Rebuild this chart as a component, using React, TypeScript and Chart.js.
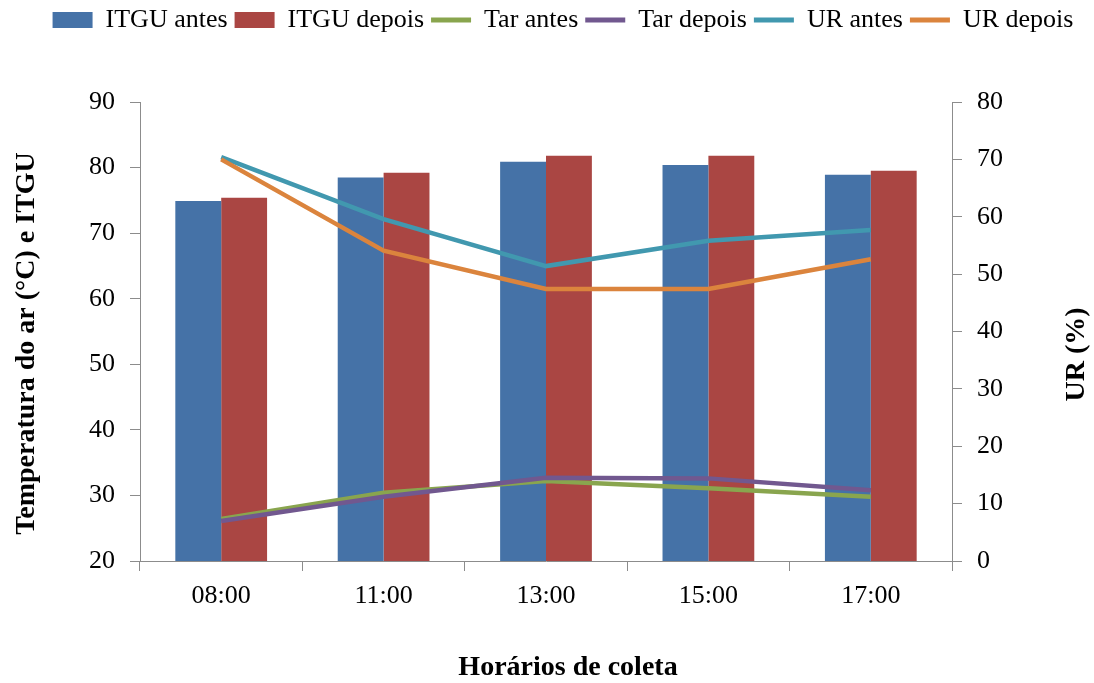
import React, { useEffect, useRef } from "react";
import { Chart, registerables } from "chart.js";

Chart.register(...registerables);

const categories = ["08:00", "11:00", "13:00", "15:00", "17:00"];
const itguAntes = [74.9, 78.5, 80.9, 80.4, 78.9];
const itguDepois = [75.4, 79.2, 81.8, 81.8, 79.5];
const tarAntes = [26.4, 30.4, 32.2, 31.1, 29.8];
const tarDepois = [26.1, 29.8, 32.7, 32.6, 30.8];
const urAntes = [70.4, 59.6, 51.4, 55.8, 57.7];
const urDepois = [70.0, 54.1, 47.4, 47.4, 52.6];

const leftTitle = "Temperatura do ar (°C) e ITGU";
const rightTitle = "UR (%)";
const bottomTitle = "Horários de coleta";

const FONT = "'Liberation Serif', 'Times New Roman', serif";
const AXIS = "#8c8c8c";

export default function App() {
  const ref = useRef<HTMLCanvasElement | null>(null);

  useEffect(() => {
    document.body.style.margin = "0";
    const canvas = ref.current;
    if (!canvas) return;

    const titlesPlugin = {
      id: "customTitles",
      afterDraw(chart: any) {
        const { ctx, chartArea } = chart;
        const cy = (chartArea.top + chartArea.bottom) / 2;
        ctx.save();
        ctx.fillStyle = "#000";
        ctx.font = `bold 28px ${FONT}`;
        ctx.textAlign = "center";
        ctx.textBaseline = "middle";
        ctx.save();
        ctx.translate(chartArea.left - 113, cy + 12);
        ctx.rotate(-Math.PI / 2);
        ctx.fillText(leftTitle, 0, 0);
        ctx.restore();
        ctx.save();
        ctx.translate(chartArea.right + 125, cy + 23);
        ctx.rotate(-Math.PI / 2);
        ctx.fillText(rightTitle, 0, 0);
        ctx.restore();
        ctx.fillText(bottomTitle, (chartArea.left + chartArea.right) / 2 + 22, chartArea.bottom + 107);
        ctx.restore();
      },
    };

    const chart = new Chart(canvas, {
      type: "bar",
      data: {
        labels: categories,
        datasets: [
          { type: "bar", label: "ITGU antes", data: itguAntes, backgroundColor: "#4572A7", yAxisID: "y", order: 10 } as any,
          { type: "bar", label: "ITGU depois", data: itguDepois, backgroundColor: "#AA4643", yAxisID: "y", order: 10 } as any,
          { type: "line", label: "Tar antes", data: tarAntes, borderColor: "#89A54E", backgroundColor: "#89A54E", borderWidth: 4.5, pointRadius: 0, yAxisID: "y", order: 5 } as any,
          { type: "line", label: "Tar depois", data: tarDepois, borderColor: "#71588F", backgroundColor: "#71588F", borderWidth: 4.5, pointRadius: 0, yAxisID: "y", order: 4 } as any,
          { type: "line", label: "UR antes", data: urAntes, borderColor: "#4198AF", backgroundColor: "#4198AF", borderWidth: 4.5, pointRadius: 0, yAxisID: "y1", order: 3 } as any,
          { type: "line", label: "UR depois", data: urDepois, borderColor: "#DB843D", backgroundColor: "#DB843D", borderWidth: 4.5, pointRadius: 0, yAxisID: "y1", order: 2 } as any,
        ],
      },
      options: {
        responsive: false,
        animation: false,
        datasets: { bar: { categoryPercentage: 0.565, barPercentage: 1.0 } } as any,
        layout: { padding: { left: 32, right: 0, top: 0, bottom: 0 } },
        plugins: {
          tooltip: { enabled: false },
          legend: {
            position: "top",
            labels: {
              usePointStyle: true,
              pointStyleWidth: 40,
              boxHeight: 16,
              padding: 7,
              color: "#000",
              font: { family: FONT, size: 26 },
              generateLabels: (ch: any) =>
                ch.data.datasets.map((ds: any, i: number) => {
                  const isBar = ds.type === "bar";
                  const c = isBar ? ds.backgroundColor : ds.borderColor;
                  return {
                    text: ds.label,
                    fillStyle: c,
                    strokeStyle: c,
                    lineWidth: isBar ? 0 : 5,
                    pointStyle: isBar ? "rect" : "line",
                    datasetIndex: i,
                    hidden: false,
                    fontColor: "#000",
                  };
                }),
            },
          },
        },
        scales: {
          x: {
            offset: true,
            grid: { display: true, offset: true, drawOnChartArea: false, drawTicks: true, tickLength: 10, color: AXIS },
            border: { color: AXIS, width: 1 },
            ticks: { color: "#000", font: { family: FONT, size: 26 }, padding: 10 },
            afterFit: (s: any) => { s.height = 122; },
          } as any,
          y: {
            position: "left",
            min: 20,
            max: 90,
            ticks: { stepSize: 10, color: "#000", font: { family: FONT, size: 26 }, padding: 15 },
            grid: { display: true, drawOnChartArea: false, drawTicks: true, tickLength: 10, color: AXIS },
            border: { color: AXIS, width: 1 },
            afterFit: (s: any) => { s.width = 108; },
          } as any,
          y1: {
            position: "right",
            min: 0,
            max: 80,
            ticks: { stepSize: 10, color: "#000", font: { family: FONT, size: 26 }, padding: 15 },
            grid: { display: true, drawOnChartArea: false, drawTicks: true, tickLength: 10, color: AXIS },
            border: { color: AXIS, width: 1 },
            afterFit: (s: any) => { s.width = 142; },
          } as any,
        },
      },
      plugins: [titlesPlugin],
    });

    const legend: any = (chart as any).legend;
    if (legend) {
      const origFit = legend.fit.bind(legend);
      legend.fit = function () {
        origFit();
        this.height = 102;
      };
      chart.update();
    }

    return () => chart.destroy();
  }, []);

  return (
    <div style={{ width: 1094, height: 683 }}>
      <canvas ref={ref} width={1094} height={683} style={{ display: "block" }} />
    </div>
  );
}
